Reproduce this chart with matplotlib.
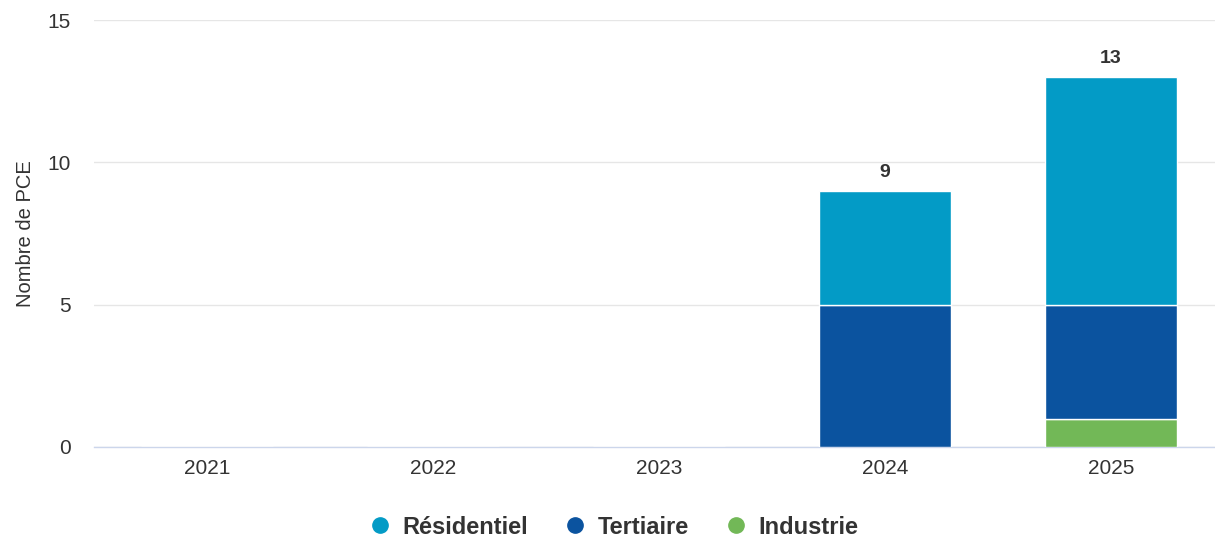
import matplotlib
matplotlib.use("Agg")
from matplotlib import pyplot as plt
from matplotlib.lines import Line2D
import numpy as np

annees = ["2021", "2022", "2023", "2024", "2025"]
industrie = [0, 0, 0, 0, 1]
tertiaire = [0, 0, 0, 5, 4]
residentiel = [0, 0, 0, 4, 8]
totaux = [0, 0, 0, 9, 13]

couleurs = {"Résidentiel": "#039bc6", "Tertiaire": "#0b539f", "Industrie": "#72b857"}

plt.rcParams['font.family'] = ['Liberation Sans', 'DejaVu Sans']

fig = plt.figure(figsize=(12.15, 5.41), dpi=100)
ax = fig.add_axes([94 / 1215, 1 - 447 / 541, 1130 / 1215, 427 / 541])

x = np.arange(len(annees))
w = 0.58
# empilement : industrie en bas, puis tertiaire, puis résidentiel
ax.bar(x, industrie, width=w, color=couleurs["Industrie"], edgecolor="white", linewidth=1, zorder=3)
bas = np.array(industrie)
ax.bar(x, tertiaire, width=w, bottom=bas, color=couleurs["Tertiaire"], edgecolor="white", linewidth=1, zorder=3)
bas = bas + np.array(tertiaire)
ax.bar(x, residentiel, width=w, bottom=bas, color=couleurs["Résidentiel"], edgecolor="white", linewidth=1, zorder=3)

for xi, t in zip(x, totaux):
    if t > 0:
        ax.annotate(str(t), (xi, t), xytext=(0, 7), textcoords="offset points",
                    ha="center", va="bottom", fontsize=14, fontweight="bold", color="#333333")

ax.set_xlim(-0.5, len(annees) - 0.5)
ax.set_ylim(0, 15)
ax.set_yticks([0, 5, 10, 15])
ax.set_xticks(x)
ax.set_xticklabels(annees)
ax.tick_params(axis="both", length=0, labelsize=15, labelcolor="#333333")
ax.tick_params(axis="y", pad=17)
ax.tick_params(axis="x", pad=9)
ax.yaxis.grid(True, color="#e6e6e6", linewidth=1, zorder=0)
ax.set_axisbelow(True)
for s in ["top", "right", "left"]:
    ax.spines[s].set_visible(False)
ax.spines["bottom"].set_color("#ccd6eb")
ax.spines["bottom"].set_linewidth(1)

ax.set_ylabel("Nombre de PCE", fontsize=14.5, color="#333333", labelpad=9)

handles = [Line2D([], [], marker="o", linestyle="", markersize=11, color=couleurs[k]) for k in
           ["Résidentiel", "Tertiaire", "Industrie"]]
leg = fig.legend(handles, ["Résidentiel", "Tertiaire", "Industrie"], loc="lower center",
                 bbox_to_anchor=(0.5, -0.035), ncol=3, frameon=False, handletextpad=-0.05,
                 columnspacing=1.0, prop={"size": 17, "weight": "bold"})
for t in leg.get_texts():
    t.set_color("#333333")

fig.savefig("out.png", dpi=100)
